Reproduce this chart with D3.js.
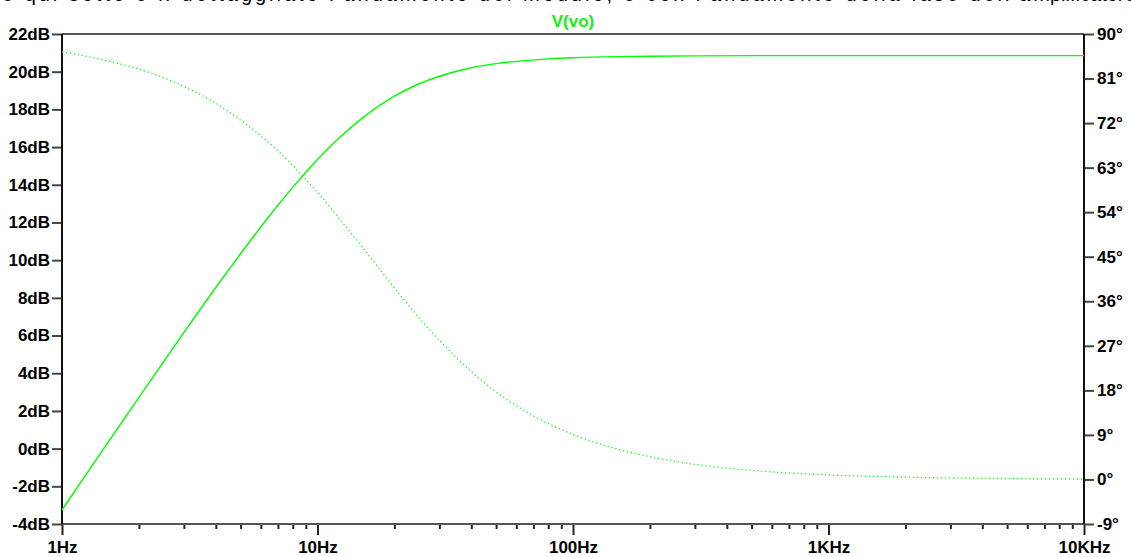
<!DOCTYPE html>
<html>
<head>
<meta charset="utf-8">
<script src="https://cdn.jsdelivr.net/npm/d3@7"></script>
<style>
	html, body { margin: 0; padding: 0; background: #fff; }
	svg { display: block; }
	text { font-family: 'Liberation Sans', Arial, sans-serif; }
</style>
</head>
<body>
<svg id="chart" width="1131" height="557"></svg>
<script>
// frequency sweep (Hz)
const freqs = [1, 1.5, 2, 3, 4, 5, 6, 7, 8, 10, 12, 15, 20, 25, 30, 40, 50, 60, 80, 100, 150, 200, 300, 500, 700, 1000, 2000, 5000, 10000]
// V(vo) magnitude, dB
const magDb = [-3.25, 0.25, 2.72, 6.16, 8.55, 10.34, 11.76, 12.91, 13.86, 15.34, 16.41, 17.55, 18.7, 19.36, 19.76, 20.21, 20.43, 20.55, 20.68, 20.74, 20.8, 20.82, 20.84, 20.85, 20.85, 20.85, 20.85, 20.85, 20.85]
// V(vo) phase, degrees
const phaseDeg = [86.4, 84.6, 82.9, 79.4, 76.0, 72.6, 69.4, 66.4, 63.4, 58.0, 53.1, 46.9, 38.7, 32.6, 28.1, 21.8, 17.7, 14.9, 11.3, 9.1, 6.1, 4.6, 3.05, 1.83, 1.31, 0.92, 0.46, 0.18, 0.09]

const dbTicks = [-4, -2, 0, 2, 4, 6, 8, 10, 12, 14, 16, 18, 20, 22]
const degTicks = [-9, 0, 9, 18, 27, 36, 45, 54, 63, 72, 81, 90]
const decades = [1, 10, 100, 1000, 10000]
const decadeLabels = ['1Hz', '10Hz', '100Hz', '1KHz', '10KHz']
const traceName = 'V(vo)'
const captionText = "e qui sotto è il dettaggliato l'andamento del modulo, e con l'andamento della fase dell'am"
const captionRest = 'plificatore'

const svg = d3.select('#chart')
const green = '#00ff00'

const x = d3.scaleLog().domain([1, 10000]).range([62, 1084])
const yDb = d3.scaleLinear().domain([-4, 22]).range([524, 34])
const yDeg = d3.scaleLinear().domain([-9, 90]).range([524, 34])

// caption line of the page above, cut off by the top edge
const cap = svg.append('text')
	.attr('y', 1)
	.style('font-size', '20px')
	.style('fill', '#000')
cap.append('tspan').attr('x', 2).attr('textLength', 1048).attr('lengthAdjust', 'spacing').text(captionText)
cap.append('tspan').attr('x', 1050).text(captionRest)

// minor + major log ticks
const minorTicks = []
decades.slice(0, -1).forEach((d) => {
	for (let k = 2; k <= 9; k++) minorTicks.push(d * k)
})

const xAxis = svg.append('g')
	.attr('transform', `translate(0,${yDb.range()[0]})`)
	.call(d3.axisBottom(x).tickValues(minorTicks.concat(decades)).tickSize(5).tickFormat(''))
xAxis.select('.domain').remove()
xAxis.selectAll('.tick line')
	.attr('y2', (d) => (decades.includes(d) ? 11 : 5))
	.attr('stroke', '#222')
	.attr('stroke-width', 2)
xAxis.selectAll('.tick')
	.filter((d) => decades.includes(d))
	.select('text')
	.text((d) => decadeLabels[decades.indexOf(d)])
	.attr('y', 29)
	.attr('dy', 0)
	.attr('fill', '#000')
	.style('font-size', '17px')
	.style('font-weight', 'bold')

const leftAxis = svg.append('g')
	.attr('transform', `translate(${x.range()[0]},0)`)
	.call(d3.axisLeft(yDb).tickValues(dbTicks).tickSize(10).tickPadding(2).tickFormat((d) => `${d}dB`))
leftAxis.select('.domain').remove()
leftAxis.selectAll('.tick line').attr('stroke', '#444').attr('stroke-width', 2)
leftAxis.selectAll('.tick text')
	.attr('fill', '#000')
	.style('font-size', '17px')
	.style('font-weight', 'bold')

const rightAxis = svg.append('g')
	.attr('transform', `translate(${x.range()[1]},0)`)
	.call(d3.axisRight(yDeg).tickValues(degTicks).tickSize(10).tickPadding(3).tickFormat((d) => `${d}°`))
rightAxis.select('.domain').remove()
rightAxis.selectAll('.tick line').attr('stroke', '#444').attr('stroke-width', 2)
rightAxis.selectAll('.tick text')
	.attr('fill', '#000')
	.style('font-size', '17px')
	.style('font-weight', 'bold')

// frame
const [x0, x1] = x.range()
const [yb, yt] = yDb.range()
svg.append('line').attr('x1', x0).attr('x2', x1).attr('y1', yt).attr('y2', yt).attr('stroke', '#555').attr('stroke-width', 2)
svg.append('line').attr('x1', x0).attr('x2', x1).attr('y1', yb).attr('y2', yb).attr('stroke', '#555').attr('stroke-width', 2)
svg.append('line').attr('x1', x0).attr('x2', x0).attr('y1', yt).attr('y2', yb).attr('stroke', '#111').attr('stroke-width', 2)
svg.append('line').attr('x1', x1).attr('x2', x1).attr('y1', yt).attr('y2', yb).attr('stroke', '#111').attr('stroke-width', 2)

// title
svg.append('text')
	.attr('x', (x0 + x1) / 2)
	.attr('y', 27)
	.attr('text-anchor', 'middle')
	.style('font-size', '17px')
	.style('font-weight', 'bold')
	.style('fill', '#11f011')
	.text(traceName)

const pts = freqs.map((f, i) => ({ f, mag: magDb[i], ph: phaseDeg[i] }))

const magLine = d3.line()
	.x((d) => x(d.f))
	.y((d) => yDb(d.mag))
	.curve(d3.curveMonotoneX)

const phaseLine = d3.line()
	.x((d) => x(d.f))
	.y((d) => yDeg(d.ph))
	.curve(d3.curveMonotoneX)

svg.append('path')
	.datum(pts)
	.attr('d', phaseLine)
	.attr('fill', 'none')
	.attr('stroke', green)
	.attr('stroke-width', 1.3)
	.attr('stroke-dasharray', '1.2 2.8')

svg.append('path')
	.datum(pts)
	.attr('d', magLine)
	.attr('fill', 'none')
	.attr('stroke', green)
	.attr('stroke-width', 1.4)
</script>
</body>
</html>
